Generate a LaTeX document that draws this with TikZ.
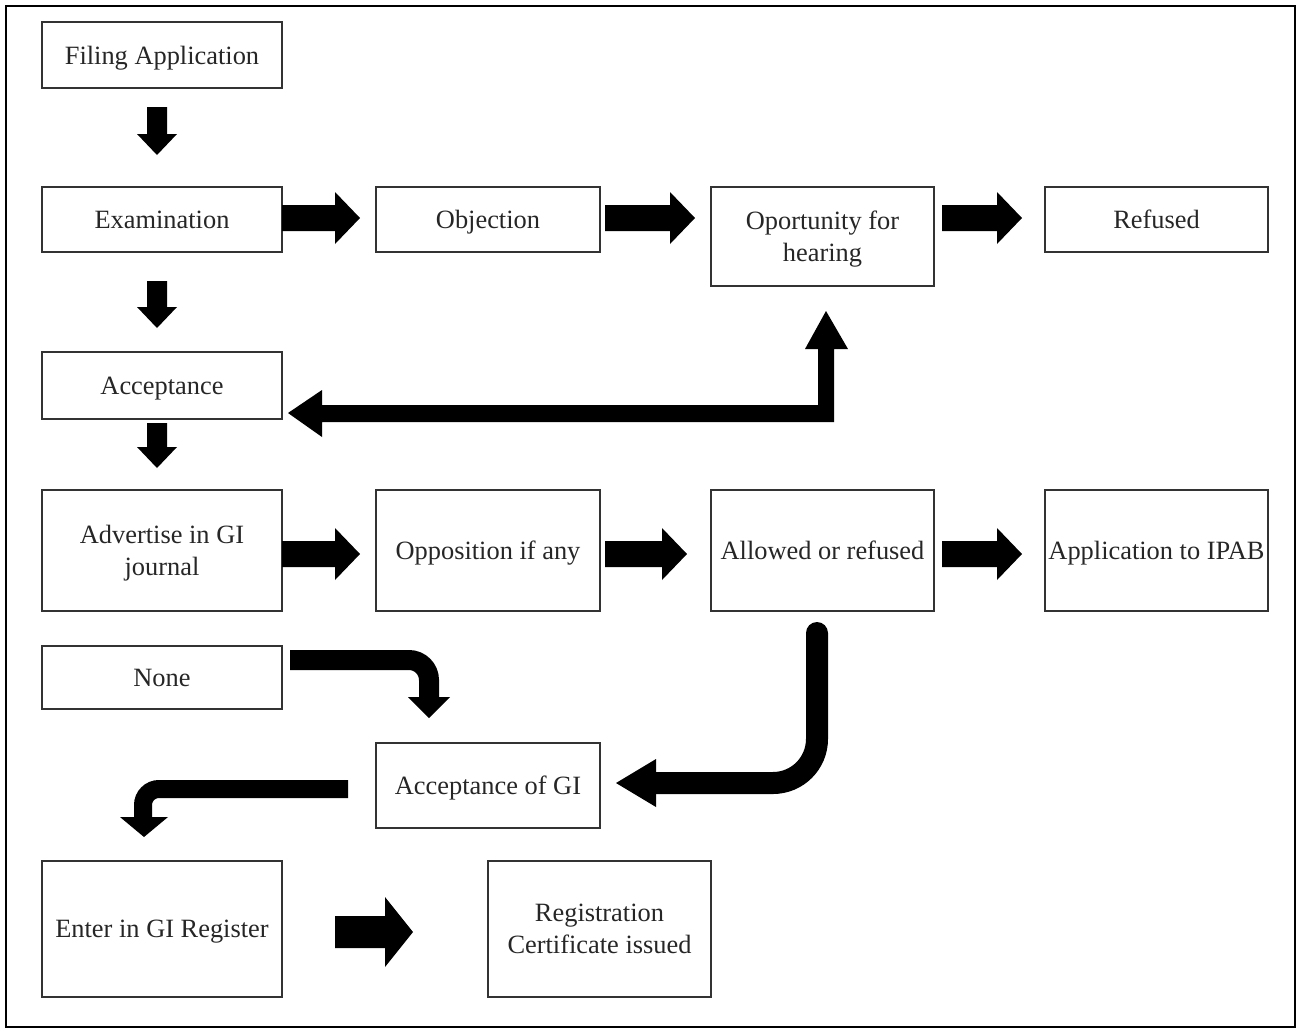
\documentclass[tikz,border=0pt]{standalone}
\usepackage{fontspec}
\setmainfont{Liberation Serif}
\newcommand\hbk[3]{\fill[black] (#1,#3-13) -- (#2-25,#3-13) -- (#2-25,#3-26) -- (#2,#3) -- (#2-25,#3+26) -- (#2-25,#3+13) -- (#1,#3+13) -- cycle;}
\newcommand\vbk[3]{\fill[black] (#1-10,#2) -- (#1-10,#3-21) -- (#1-20,#3-21) -- (#1,#3) -- (#1+20,#3-21) -- (#1+10,#3-21) -- (#1+10,#2) -- cycle;}
\begin{document}
\begin{tikzpicture}[x=0.5pt,y=-0.5pt,
  box/.style={draw=black!80, line width=0.8pt, inner sep=0pt, align=center,
    font=\fontsize{13.2}{16}\selectfont, text=black!85, text depth=0pt},
  ]
\useasboundingbox (0,0) rectangle (1298,1030);
\draw[line width=1pt] (6,6) rectangle (1295,1027);
% boxes
\node[box, minimum width=120pt, minimum height=33pt] (fa) at (162,55) {Filing Application};
\node[box, minimum width=120pt, minimum height=32.5pt] (ex) at (162,219.5) {Examination};
\node[box, minimum width=112pt, minimum height=32.5pt] (ob) at (488,219.5) {Objection};
\node[box, minimum width=111.5pt, minimum height=49.5pt] (op) at (822.5,236.5) {Oportunity for\\hearing};
\node[box, minimum width=111.5pt, minimum height=32.5pt] (rf) at (1156.5,219.5) {Refused};
\node[box, minimum width=120pt, minimum height=33.5pt] (ac) at (162,385.5) {Acceptance};
\node[box, minimum width=120pt, minimum height=60.5pt] (ad) at (162,550.5) {Advertise in GI\\journal};
\node[box, minimum width=112pt, minimum height=60.5pt] (oa) at (488,550.5) {Opposition if any};
\node[box, minimum width=111.5pt, minimum height=60.5pt] (al) at (822.5,550.5) {Allowed or refused};
\node[box, minimum width=111.5pt, minimum height=60.5pt] (ip) at (1156.5,550.5) {Application to IPAB};
\node[box, minimum width=120pt, minimum height=31.5pt] (no) at (162,677.5) {None};
\node[box, minimum width=112pt, minimum height=42.5pt] (ag) at (488,785.5) {Acceptance of GI};
\node[box, minimum width=120pt, minimum height=68pt] (en) at (162,929) {Enter in GI Register};
\node[box, minimum width=111.5pt, minimum height=68pt] (rc) at (599.5,929) {Registration\\Certificate issued};
% straight block arrows
\vbk{157}{107}{155}
\vbk{157}{281}{328}
\vbk{157}{423}{468}
\hbk{282}{360}{218}
\hbk{605}{695}{218}
\hbk{942}{1022}{218}
\hbk{282}{360}{554}
\hbk{605}{687}{554}
\hbk{942}{1022}{554}
\fill[black] (335,916) -- (385,916) -- (385,897) -- (413,932) -- (385,967) -- (385,948) -- (335,948) -- cycle;
% elbow double arrow
\fill[black] (288,413) -- (322,390) -- (322,405) -- (818,405) -- (818,349) -- (805,349) -- (826,311) -- (848,349) -- (834,349) -- (834,422) -- (322,422) -- (322,437) -- cycle;
% curved arrows
\draw[line width=10pt, rounded corners=10pt] (290,660) -- (429,660) -- (429,698);
\fill[black] (408,697) -- (450,697) -- (429,718) -- cycle;
\draw[line width=11pt, rounded corners=22pt, line cap=round] (817,633) -- (817,783) -- (652,783);
\fill[black] (656,759) -- (656,807) -- (616,783) -- cycle;
\draw[line width=9pt, rounded corners=8pt] (348,789) -- (143,789) -- (143,818);
\fill[black] (120,817) -- (168,817) -- (144,837) -- cycle;
\end{tikzpicture}
\end{document}
